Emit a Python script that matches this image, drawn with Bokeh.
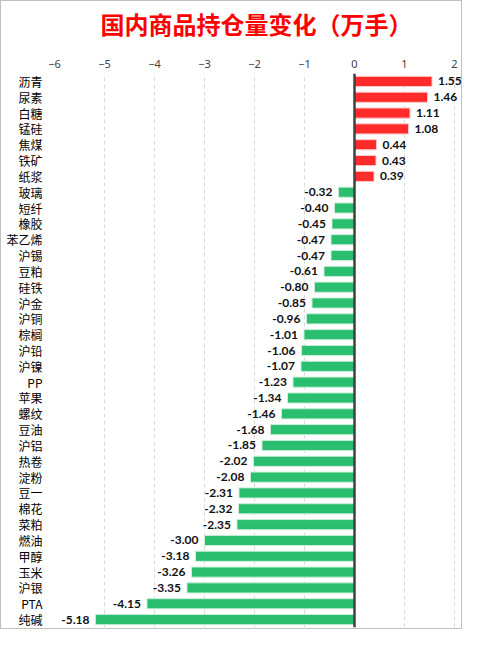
from bokeh.plotting import figure
from bokeh.models import ColumnDataSource, Range1d, FactorRange, Span, FixedTicker, Title, LabelSet
from bokeh.core.properties import value
from bokeh.embed import file_html
from bokeh.resources import INLINE

categories = ["沥青", "尿素", "白糖", "锰硅", "焦煤", "铁矿", "纸浆", "玻璃", "短纤", "橡胶",
              "苯乙烯", "沪锡", "豆粕", "硅铁", "沪金", "沪铜", "棕榈", "沪铅", "沪镍", "PP",
              "苹果", "螺纹", "豆油", "沪铝", "热卷", "淀粉", "豆一", "棉花", "菜粕", "燃油",
              "甲醇", "玉米", "沪银", "PTA", "纯碱"]
changes = [1.55, 1.46, 1.11, 1.08, 0.44, 0.43, 0.39, -0.32, -0.40, -0.45,
           -0.47, -0.47, -0.61, -0.80, -0.85, -0.96, -1.01, -1.06, -1.07, -1.23,
           -1.34, -1.46, -1.68, -1.85, -2.02, -2.08, -2.31, -2.32, -2.35, -3.00,
           -3.18, -3.26, -3.35, -4.15, -5.18]
x_ticks = [-6, -5, -4, -3, -2, -1, 0, 1, 2]
title_text = "国内商品持仓量变化（万手）"

RED = "#ff2b2b"
GREEN = "#29bf6f"

pos = [v >= 0 for v in changes]
src = ColumnDataSource(dict(
    cat=categories,
    val=changes,
    color=[RED if p_ else GREEN for p_ in pos],
    line=["#ffc8c8" if p_ else "#c8eed8" for p_ in pos],
))
src_pos = ColumnDataSource(dict(
    cat=[c for c, v in zip(categories, changes) if v >= 0],
    val=[v for v in changes if v >= 0],
    label=["%.2f" % v for v in changes if v >= 0],
))
src_neg = ColumnDataSource(dict(
    cat=[c for c, v in zip(categories, changes) if v < 0],
    val=[v for v in changes if v < 0],
    label=["%.2f" % v for v in changes if v < 0],
))

p = figure(width=462, height=629, output_backend="svg", toolbar_location=None,
           x_range=Range1d(-6, 2.16), y_range=FactorRange(*list(reversed(categories)), range_padding=0),
           x_axis_location="above", min_border_left=53, min_border_right=1,
           min_border_bottom=3, min_border_top=0)

p.title = Title(text=title_text, align="left", offset=46, text_color="#ff0000",
                text_font="Noto Sans CJK SC", text_font_size="24px", text_font_style="bold",
                standoff=4)

p.hbar(y="cat", left=0, right="val", height=0.64, fill_color="color", line_color="line",
       line_width=1, source=src)

p.add_layout(LabelSet(x="val", y="cat", text="label", source=src_pos, x_offset=6,
                      text_align="left", text_baseline="middle", text_font=value("Lato"),
                      text_font_style="bold", text_font_size="12px", text_color="#111111"))
p.add_layout(LabelSet(x="val", y="cat", text="label", source=src_neg, x_offset=-6,
                      text_align="right", text_baseline="middle", text_font=value("Lato"),
                      text_font_style="bold", text_font_size="12px", text_color="#111111"))

p.add_layout(Span(location=0, dimension="height", line_color="#404040", line_width=2.5))

p.xaxis.ticker = FixedTicker(ticks=x_ticks)
p.xaxis.axis_line_color = None
p.xaxis.major_tick_line_color = None
p.xaxis.minor_tick_line_color = None
p.xaxis.major_label_text_font = "Noto Sans"
p.xaxis.major_label_text_font_size = "11px"
p.xaxis.major_label_text_color = "#404040"
p.xaxis.major_label_standoff = 0
p.xaxis.axis_label = " "
p.xaxis.axis_label_text_font_size = "10px"
p.xaxis.axis_label_standoff = 0

p.yaxis.axis_line_color = None
p.yaxis.major_tick_line_color = None
p.yaxis.major_label_text_font = "Noto Sans CJK SC"
p.yaxis.major_label_text_font_size = "12px"
p.yaxis.major_label_text_color = "#000000"
p.yaxis.major_label_standoff = 6

p.xgrid.grid_line_color = "#d9d9d9"
p.xgrid.grid_line_dash = "4 3"
p.ygrid.grid_line_color = None
p.outline_line_color = None
p.styles = {"border": "1px solid #c0c0c0"}

open("out.html", "w").write(file_html(p, INLINE))
